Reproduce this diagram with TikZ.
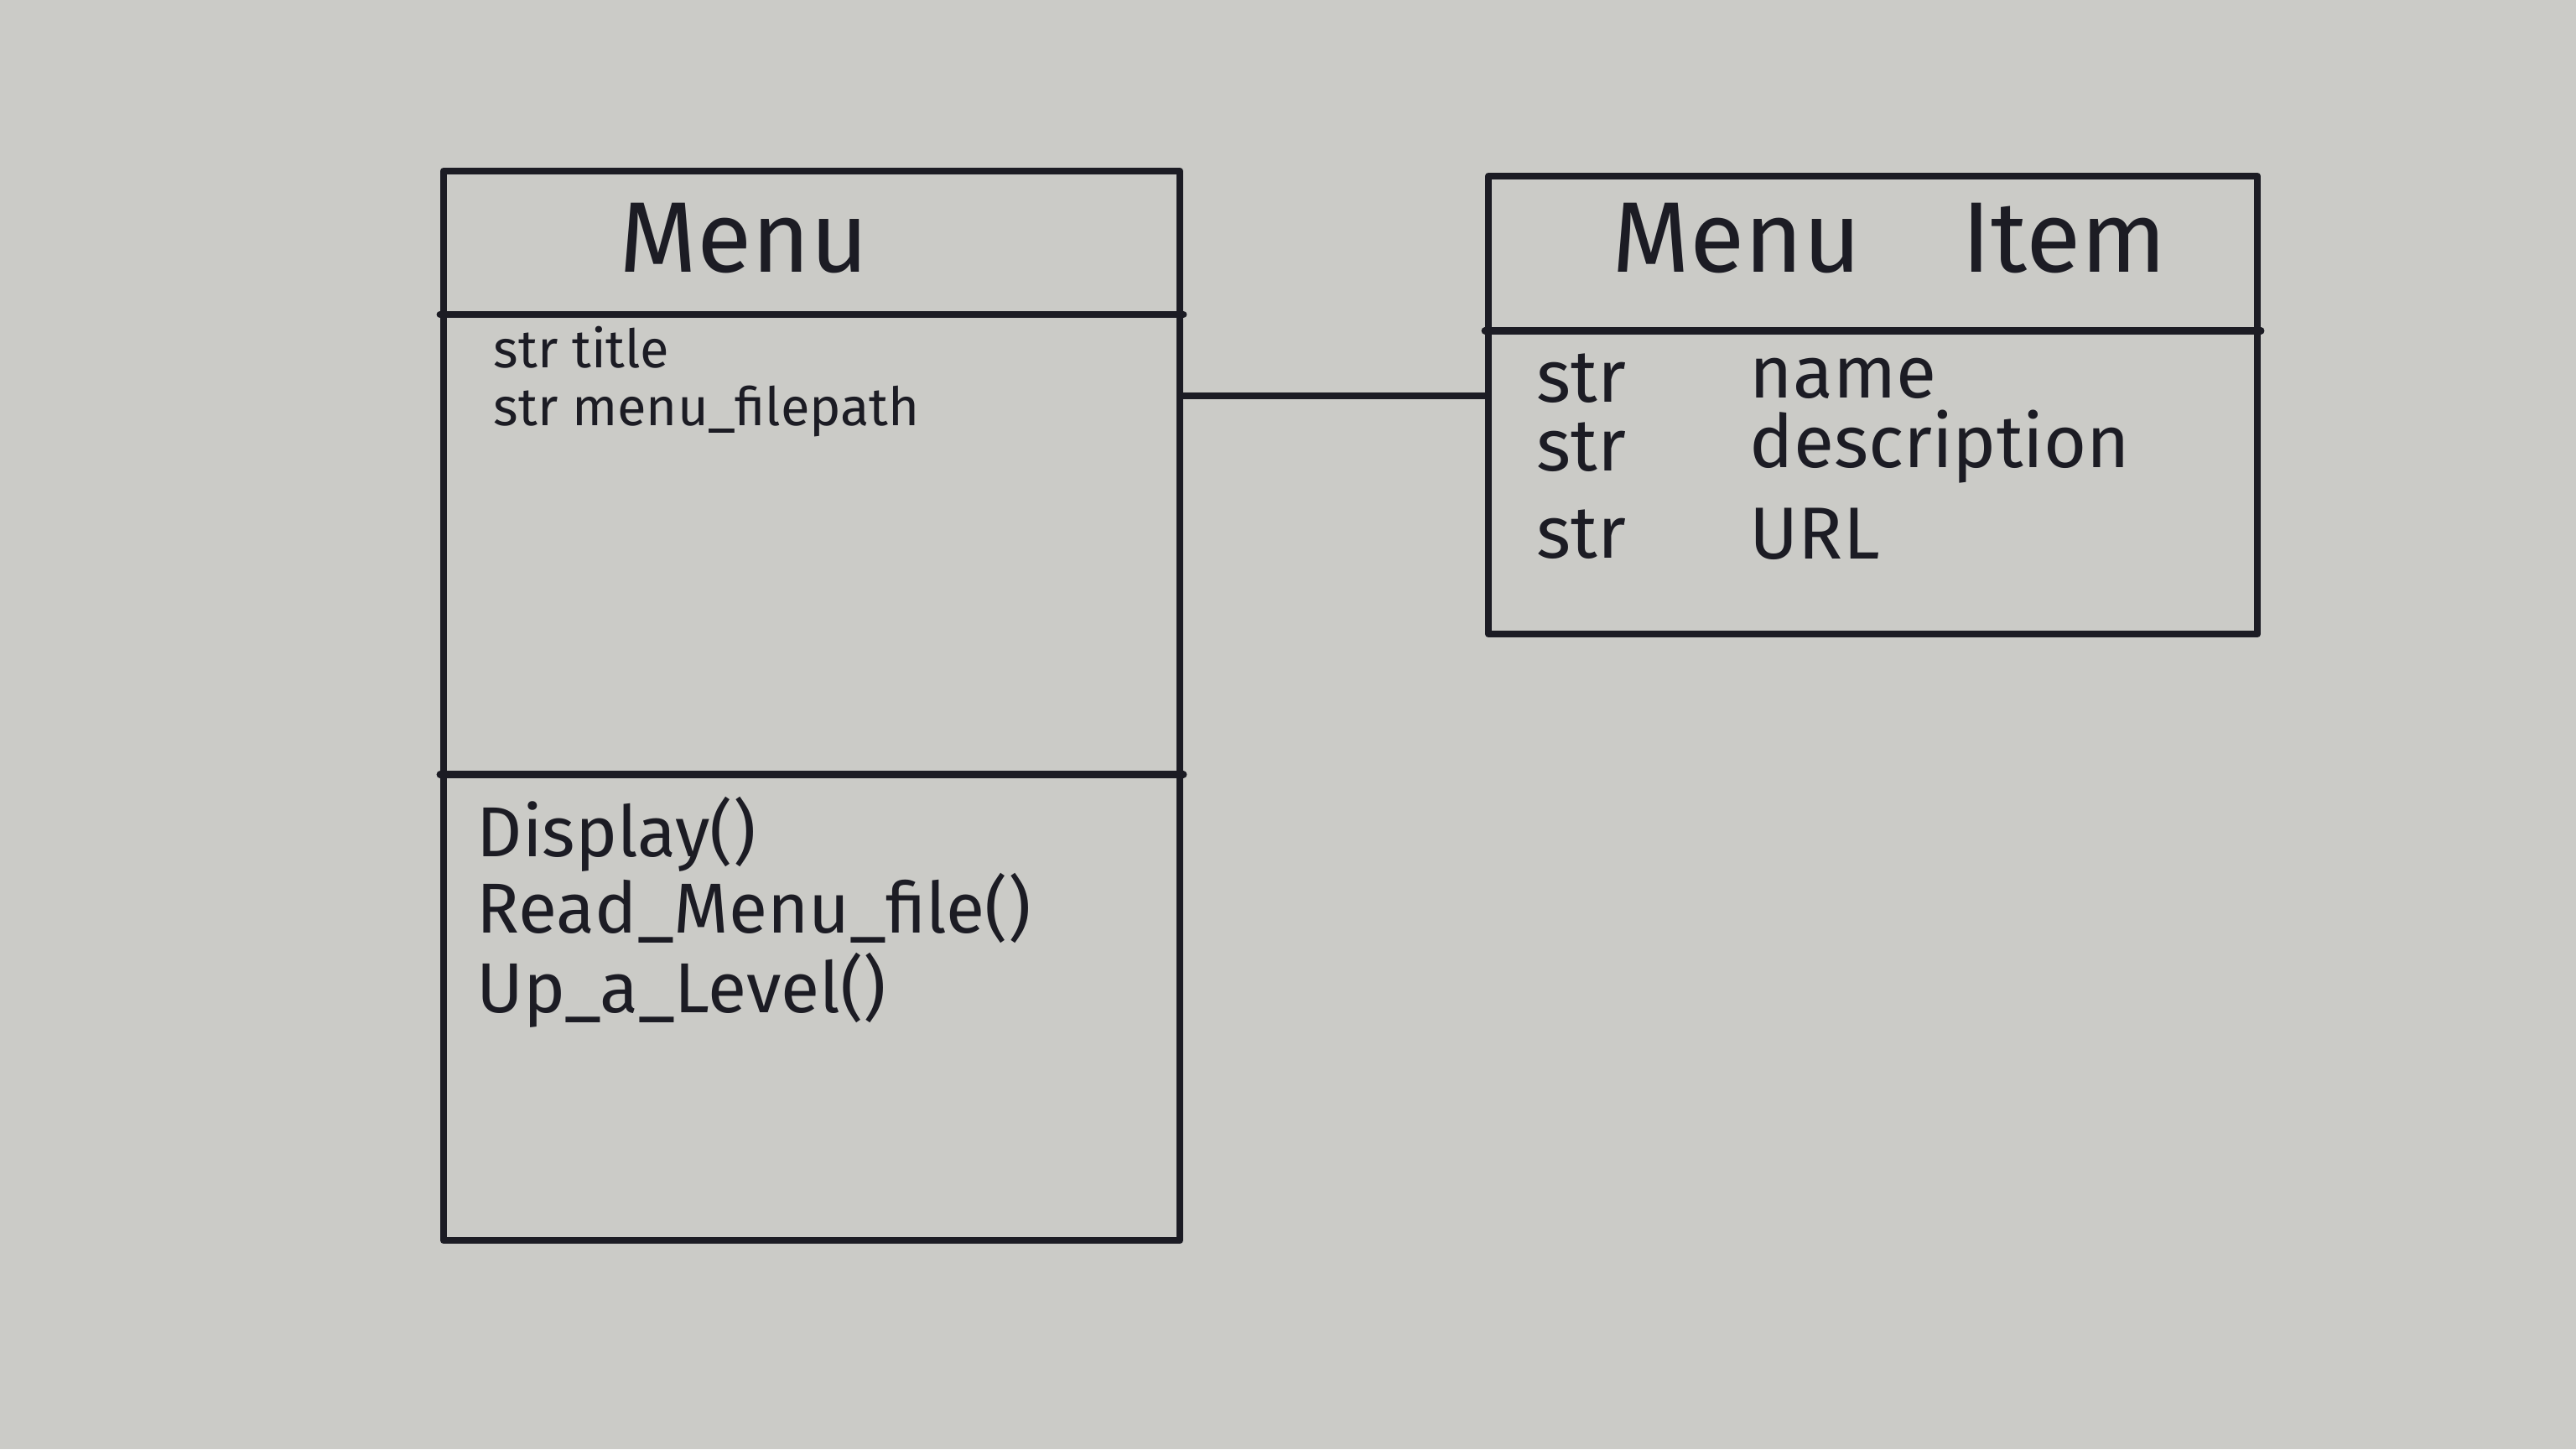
\documentclass[tikz,border=0pt]{standalone}
\usepackage{fontspec}
\setmainfont{Fira Sans}
\usetikzlibrary{calc}
\definecolor{board}{RGB}{203,203,199}
\definecolor{marker}{RGB}{28,28,36}
\tikzset{stroke/.style={draw=marker,line width=2.4pt,line cap=round,line join=round},
 every node/.style={text=marker,inner sep=0pt}}

\begin{document}
\begin{tikzpicture}[classbox/.style={stroke,rectangle},
 title/.style={font=\fontsize{34}{40}\selectfont},
 small/.style={anchor=west,font=\fontsize{18}{21}\selectfont},
 attr/.style={anchor=west,font=\fontsize{25}{30}\selectfont},
 method/.style={anchor=west,font=\fontsize{24}{28}\selectfont}]
\fill[board] (0,0) rectangle (30.72,-17.28);
\useasboundingbox (0,0) rectangle (30.72,-17.28);
% class Menu
\node[classbox,minimum width=8.78cm,minimum height=12.75cm] (menu) at (9.68,-8.415) {};
\draw[stroke] ($(menu.north west)!0.1365!(menu.south west)$) -- ($(menu.north east)!0.1365!(menu.south east)$);
\draw[stroke] ($(menu.north west)!0.564!(menu.south west)$) -- ($(menu.north east)!0.564!(menu.south east)$);
\node[title] (menuname) at (8.87,-2.84) {Menu};
\node[small] (menutitle) at (5.88,-4.14) {str title};
\node[small] (menufile) at (5.88,-4.90) {str menu\_filepath};
\node[method] (display) at (5.68,-9.95) {Display()};
\node[method] (readfile) at (5.68,-10.83) {Read\_Menu\_file()};
\node[method] (uplevel) at (5.68,-11.81) {Up\_a\_Level()};
% class Menu Item
\node[classbox,minimum width=9.17cm,minimum height=5.46cm] (item) at (22.335,-4.83) {};
\draw[stroke] ($(item.north west)!0.34!(item.south west)$) -- ($(item.north east)!0.34!(item.south east)$);
\node[title] (itemname) at (22.53,-2.84) {Menu\quad Item};
\node[attr] (strname) at (18.32,-4.51) {str};
\node[attr] (name) at (20.86,-4.51) {name};
\node[attr] (strdesc) at (18.32,-5.33) {str};
\node[attr] (desc) at (20.86,-5.33) {description};
\node[attr] (strurl) at (18.32,-6.37) {str};
\node[attr] (url) at (20.86,-6.37) {URL};
% association
\coordinate (link) at ($(menu.north east)!0.212!(menu.south east)$);
\draw[stroke] (link) -- (link -| item.west);
\end{tikzpicture}
\end{document}
